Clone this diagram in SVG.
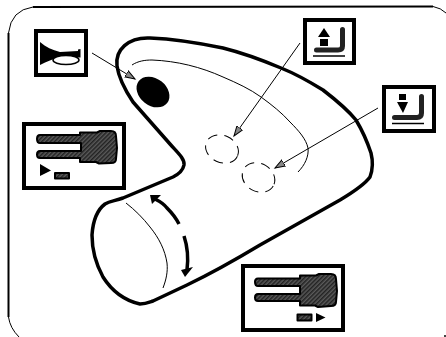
<svg xmlns="http://www.w3.org/2000/svg" width="446" height="337" viewBox="0 0 446 337">
<defs>
<style>
.box{fill:#fff;stroke:#000;stroke-width:4}
.body{fill:none;stroke:#000;stroke-width:3.500;stroke-linecap:round;stroke-linejoin:round}
.thin{fill:none;stroke:#000;stroke-width:1}
.dash{fill:none;stroke:#000;stroke-width:1;stroke-dasharray:10 7}
.hatch{fill:url(#h);stroke:#000;stroke-width:2;stroke-linejoin:round}
.blk{fill:#000;stroke:none}
.lead{fill:none;stroke:#000;stroke-width:1;marker-end:url(#a)}
.big{fill:none;stroke:#000;stroke-width:3.500}
.ell{fill:none;stroke:#222;stroke-width:5;stroke-linecap:round}
</style>
<pattern id="h" patternUnits="userSpaceOnUse" width="3" height="3" patternTransform="rotate(-45)"><rect width="3" height="3" fill="#5a5a5a"/><rect width="3" height="1.500" fill="#222"/></pattern>
<marker id="a" markerUnits="userSpaceOnUse" markerWidth="12" markerHeight="9" refX="10" refY="4" orient="auto"><path d="M0 0.500L10 4L0 7.500Z" fill="#888" stroke="#000" stroke-width="1"/></marker>
</defs>
<g id="frame">
<path d="M33 7L433 6.500M8.500 33L8.500 317" fill="none" stroke="#000" stroke-width="2"/>
<path d="M8.500 33Q11 10 33 7M433 6.500Q441 8 446 13M8.500 317Q10 328 19 337" fill="none" stroke="#000" stroke-width="1"/>
<rect x="444" y="335" width="2" height="2" fill="#444"/>
</g>
<g id="body">
<path class="body" d="M150 38C128 37 115 50 117 66C119 80 127 93 133 102L170 144C178 153 185 159 184 165C183 170 179 174 173 177L123 198C115 201 110 201 105 204C97 210 93 220 92 235C92 250 97 266 103 277C110 288 122 300 140 304C146 304 150 302 153 301L187 285C210 274 235 260 260 245L340 200C355 191 365 184 370 177C373 169 373 161 371 153C367 141 362 130 356 120C347 109 336 100 323 90C310 82 296 74 281 68C262 60 243 53 223 48C199 43 175 39 150 38Z"/>
<path class="thin" d="M132 65C138 61 145 60 152 60C177 61 201 67 223 77C237 83 250 89 261 97C272 105 282 113 290 122C299 131 306 139 308 148C309 156 305 165 298 172"/>
<path class="thin" d="M126 203C135 210 143 218 150 227C159 238 165 250 167 263C168 272 166 280 163 288"/>
<ellipse class="blk" cx="153" cy="92" rx="18" ry="13.500" transform="rotate(38 153 92)"/>
</g>
<g id="rotate-arrows">
<path class="big" d="M179 224C175 216 171 212 167 208C164 204 161 202 155 199"/>
<path class="blk" d="M150 195L161 195L152 204Z"/>
<path class="big" d="M184 236C187 245 189 254 187 270"/>
<path class="blk" d="M181 270L193 267L185 277Z"/>
</g>
<g id="switch-up-spot"><ellipse class="dash" cx="222" cy="149" rx="17" ry="13.500" transform="rotate(25 222 149)"/></g>
<g id="switch-down-spot"><ellipse class="dash" cx="258.500" cy="177.500" rx="17" ry="14" transform="rotate(30 258.500 177.500)"/></g>
<g id="connectors">
<path class="lead" d="M92 53L135 79"/>
<path class="lead" d="M300 43L234 136"/>
<path class="lead" d="M378 108L275 168"/>
</g>
<g id="horn">
<rect class="box" x="36" y="31" width="50" height="44"/>
<path class="blk" d="M40 42C46 47 52 50 60 52L78 51L78 49.500L80.500 49L80.500 57.500L60 57C52 59 46 62 40 65Z"/>
<ellipse cx="66" cy="60" rx="13" ry="4.500" fill="#fff" stroke="#000" stroke-width="1.500"/>
</g>
<g id="switch-up">
<rect class="box" x="305" y="20" width="49" height="43"/>
<path class="blk" d="M324 28L318 37L330 37Z"/>
<rect class="blk" x="320" y="39" width="8" height="7"/>
<path class="ell" d="M342.500 29.500L342.500 46Q342.500 50 338 50L316.500 50"/>
<path class="thin" d="M313 56L345 56" style="stroke-width:1.500"/>
</g>
<g id="switch-down">
<rect class="box" x="384" y="87" width="50" height="44"/>
<rect class="blk" x="399" y="94" width="7" height="6"/>
<path class="blk" d="M397 102L408 102L403 113Z"/>
<path class="ell" d="M421.500 96.500L421.500 113Q421.500 117.500 417 117.500L394.500 117.500"/>
<path class="thin" d="M392 123.500L424 123.500" style="stroke-width:1.500"/>
</g>
<g id="lever-left">
<rect class="box" x="24" y="124" width="100" height="64"/>
<path class="hatch" d="M40 135L80 135L80 132.500L97 132.500L100 131L111 131Q116 131 116 136L117 148L116 159Q116 163 111 163L99 163.500L96 162L80 162L80 158L40 158Q37 158 37 154.500Q37 151 40 151L81 151L81 143L40 143Q37 143 37 139Q37 135 40 135Z"/>
<path class="blk" d="M40 164L51 170.500L40 176Z"/>
<rect class="hatch" x="55" y="173" width="14" height="5.500"/>
</g>
<g id="lever-right">
<rect class="box" x="243" y="266" width="100" height="64"/>
<path class="hatch" d="M258 278.500L300 278.500L300 275.500L316 275.500L319 274L331 274Q336 274 336 279L337 291L336 302Q336 306 331 306L318 307L315 305.500L300 305.500L300 301L258 301Q255 301 255 297.500Q255 294 258 294L300 294L300 286L258 286Q255 286 255 282Q255 278.500 258 278.500Z"/>
<rect class="hatch" x="297.500" y="314.500" width="14" height="6"/>
<path class="blk" d="M316 313L325.500 317.500L316 322Z"/>
</g>
</svg>
